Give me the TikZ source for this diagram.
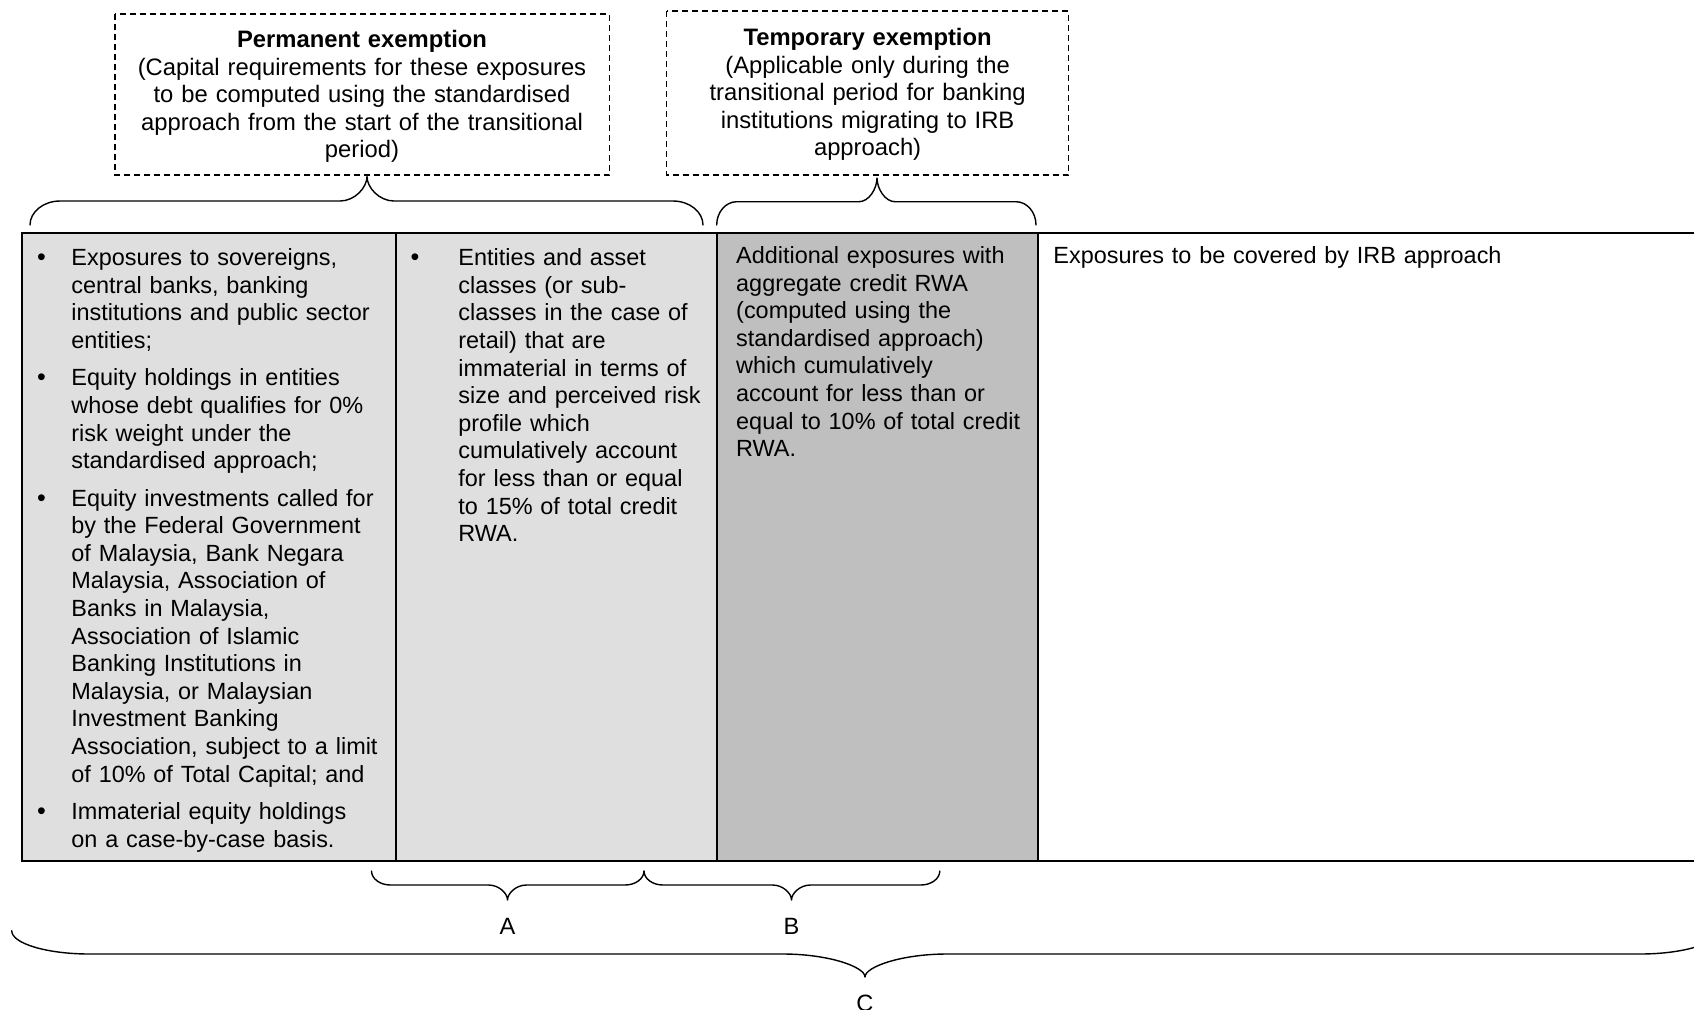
\documentclass[tikz,border=0pt]{standalone}
\usepackage{fontspec}
\setmainfont{Liberation Sans}
\definecolor{cellA}{RGB}{223,223,223}
\definecolor{cellB}{RGB}{191,191,191}
\tikzset{
  body/.style={inner sep=0pt, anchor=base west, align=left, text width=320pt, font=\fontsize{11.72}{13.8}\selectfont},
  head/.style={inner sep=0pt, anchor=base, align=center, text width=260pt, font=\fontsize{11.9}{13.8}\selectfont},
  bul/.style={inner sep=0pt, anchor=base, font=\fontsize{12.5}{13.8}\selectfont},
  lab/.style={inner sep=0pt, anchor=base, font=\fontsize{11.8}{13.8}\selectfont},
  tblouter/.style={line width=1.1pt},
  tblinner/.style={line width=0.9pt},
  dbox/.style={line width=0.6pt, dash pattern=on 3pt off 2pt},
  bracestyle/.style={line width=0.7pt, line cap=round, line join=round}
}
% #1 x0, #2 x1, #3 xtip, #4 yEnd, #5 yLine, #6 yTip, #7 rEnd, #8 rTip
\newcommand\wordbrace[8]{%
  \draw[bracestyle] (#1,#4) .. controls (#1,{#4+0.55*(#5-#4)}) and ({#1+0.45*#7},#5) .. ({#1+#7},#5)
    -- ({#3-#8},#5) .. controls ({#3-0.45*#8},#5) and (#3,{#5+0.55*(#6-#5)}) .. (#3,#6)
    .. controls (#3,{#5+0.55*(#6-#5)}) and ({#3+0.45*#8},#5) .. ({#3+#8},#5)
    -- ({#2-#7},#5) .. controls ({#2-0.45*#7},#5) and (#2,{#4+0.55*(#5-#4)}) .. (#2,#4);}
\begin{document}
\begin{tikzpicture}[x=0.5pt,y=-0.5pt]
\useasboundingbox (0,0) rectangle (1694,1009);

% dashed boxes
\draw[dbox] (115,14) rectangle (609.5,175);
\draw[dbox] (666.7,11) rectangle (1068.5,175);
\node[head] (perm) at (362,47.5) {\textbf{Permanent exemption}\\(Capital requirements for these exposures\\to be computed using the standardised\\approach from the start of the transitional\\period)};
\node[head] (temp) at (867.6,45.4) {\textbf{Temporary exemption}\\(Applicable only during the\\transitional period for banking\\institutions migrating to IRB\\approach)};

% top braces
\wordbrace{30}{703}{367}{225}{201}{176.5}{30}{27}
\wordbrace{716.7}{1036}{877}{225}{201.7}{178}{20}{18}

% table
\fill[cellA] (21.7,232.7) rectangle (717,860.7);
\fill[cellB] (717,232.7) rectangle (1037.7,860.7);
\draw[tblinner] (396,232.7) -- (396,860.7);
\draw[tblinner] (717,232.7) -- (717,860.7);
\draw[tblinner] (1037.7,232.7) -- (1037.7,860.7);
\draw[tblouter] (1700,232.7) -- (21.7,232.7) -- (21.7,860.7) -- (1700,860.7);

% column 1
\node[bul] (b1) at (41.5,265.6) {•};
\node[body] (c1a) at (71,265.6) {Exposures to sovereigns,\\central banks, banking\\institutions and public sector\\entities;};
\node[bul] (b2) at (41.5,385.8) {•};
\node[body] (c1b) at (71,385.8) {Equity holdings in entities\\whose debt qualifies for 0\%\\risk weight under the\\standardised approach;};
\node[bul] (b3) at (41.5,506) {•};
\node[body] (c1c) at (71,506) {Equity investments called for\\by the Federal Government\\of Malaysia, Bank Negara\\Malaysia, Association of\\Banks in Malaysia,\\Association of Islamic\\Banking Institutions in\\Malaysia, or Malaysian\\Investment Banking\\Association, subject to a limit\\of 10\% of Total Capital; and};
\node[bul] (b4) at (41.5,819.4) {•};
\node[body] (c1d) at (71,819.4) {Immaterial equity holdings\\on a case-by-case basis.};

% column 2
\node[bul] (b5) at (415,265.6) {•};
\node[body] (c2) at (458,265.6) {Entities and asset\\classes (or sub-\\classes in the case of\\retail) that are\\immaterial in terms of\\size and perceived risk\\profile which\\cumulatively account\\for less than or equal\\to 15\% of total credit\\RWA.};

% column 3
\node[body] (c3) at (735.8,263.5) {Additional exposures with\\aggregate credit RWA\\(computed using the\\standardised approach)\\which cumulatively\\account for less than or\\equal to 10\% of total credit\\RWA.};

% column 4
\node[body] (c4) at (1053,263.5) {Exposures to be covered by IRB approach};

% bottom braces
\wordbrace{371.5}{644}{507.5}{871}{885}{900}{19}{19}
\wordbrace{644}{939.8}{791.5}{871}{885}{900}{19}{19}
\wordbrace{11.7}{1718}{865}{930.7}{954}{977}{78}{82}

\node[lab] (lA) at (507.5,934.5) {A};
\node[lab] (lB) at (791.5,934.5) {B};
\node[lab] (lC) at (865,1011) {C};
\end{tikzpicture}
\end{document}
